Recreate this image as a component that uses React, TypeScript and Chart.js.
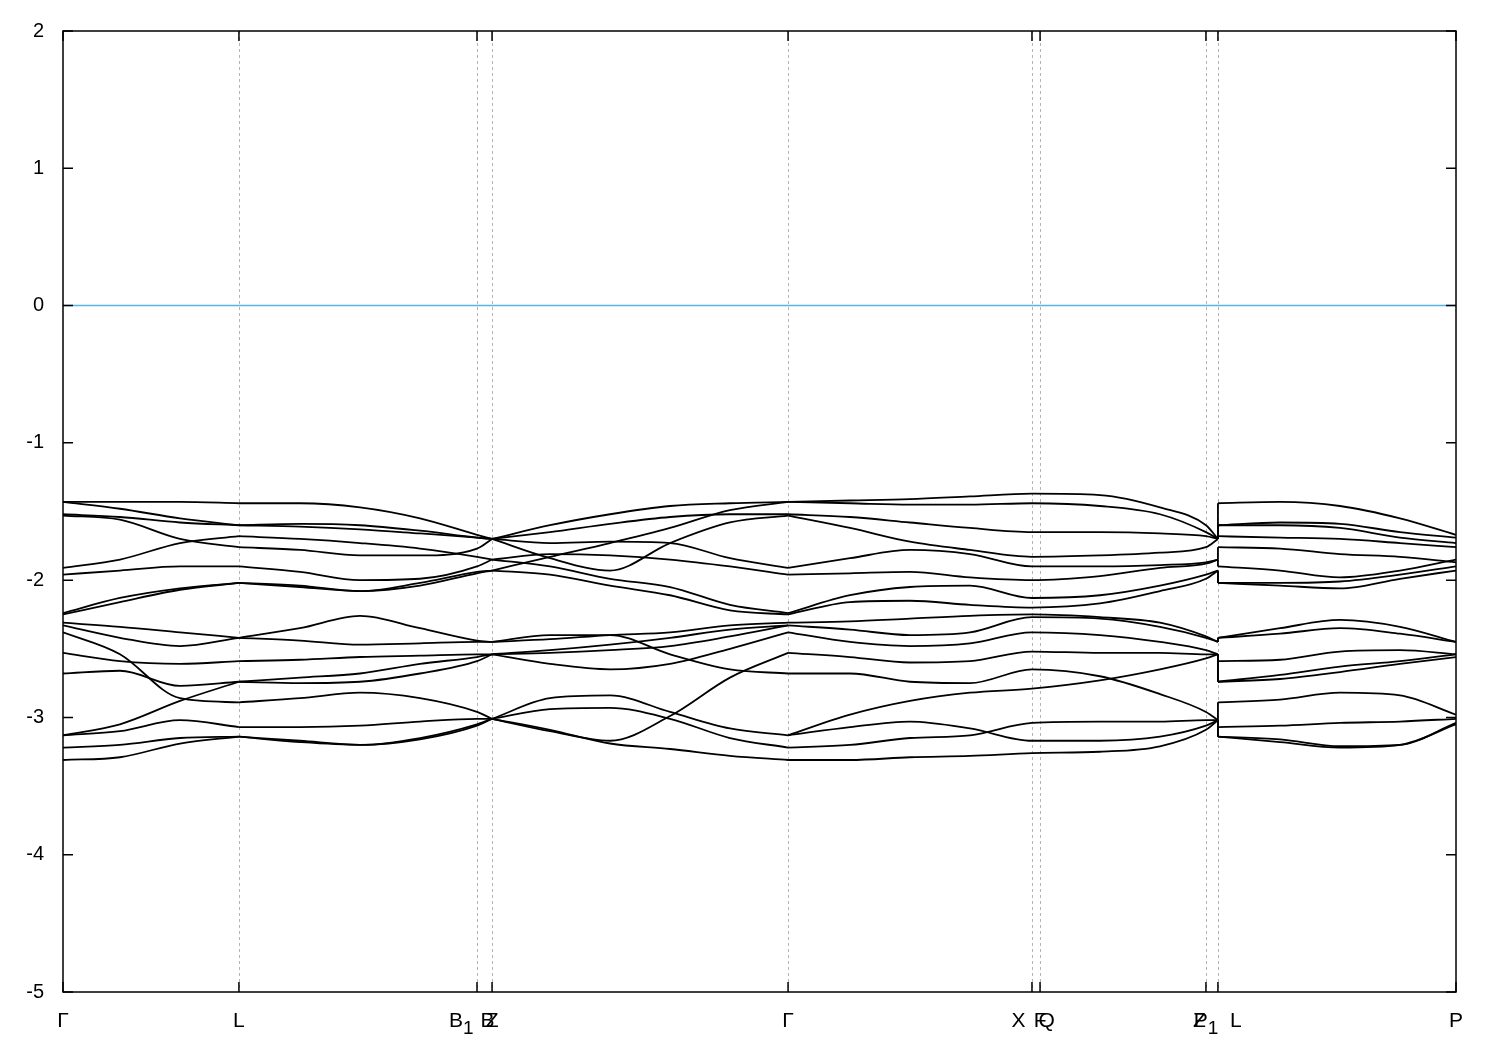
import React, { useEffect, useRef } from 'react';
import { Chart, registerables } from 'chart.js';

Chart.register(...registerables);

// High-symmetry points along the k-path (fraction of total path length)
const kTicks = [0, 0.1263, 0.2972, 0.308, 0.5205, 0.6956, 0.7014, 0.8205, 0.8291, 1.0];
const kLabels = ['Γ', 'L', 'B₁|B', 'Z', 'Γ', 'X|Q', 'F', 'P₁', 'Z|L', 'P'];

const yTicksMin = -5;
const yTicksMax = 2;
const fermiLevel = 0;

// Segment Γ – L
const kGL = [0, 0.0409, 0.084, 0.1263];
const bandsGL = [
  [-1.43, -1.43, -1.43, -1.44],
  [-1.43, -1.48, -1.55, -1.6],
  [-1.52, -1.54, -1.58, -1.6],
  [-1.53, -1.56, -1.7, -1.76],
  [-1.91, -1.85, -1.73, -1.68],
  [-1.96, -1.93, -1.9, -1.9],
  [-2.24, -2.13, -2.06, -2.02],
  [-2.25, -2.16, -2.07, -2.02],
  [-2.31, -2.34, -2.38, -2.42],
  [-2.33, -2.42, -2.48, -2.42],
  [-2.38, -2.54, -2.86, -2.89],
  [-2.53, -2.59, -2.61, -2.59],
  [-2.68, -2.66, -2.77, -2.74],
  [-3.13, -3.05, -2.88, -2.74],
  [-3.13, -3.1, -3.02, -3.07],
  [-3.22, -3.2, -3.15, -3.14],
  [-3.31, -3.29, -3.19, -3.14],
];

// Segment L – B1|B – Z
const kLZ = [0.1263, 0.1701, 0.2132, 0.2563, 0.2972, 0.308];
const bandsLZ = [
  [-1.44, -1.44, -1.47, -1.55, -1.67, -1.7],
  [-1.6, -1.59, -1.6, -1.64, -1.69, -1.7],
  [-1.6, -1.61, -1.63, -1.66, -1.69, -1.7],
  [-1.76, -1.78, -1.82, -1.82, -1.77, -1.7],
  [-1.68, -1.7, -1.73, -1.77, -1.83, -1.85],
  [-1.9, -1.94, -2.0, -1.99, -1.9, -1.85],
  [-2.02, -2.04, -2.08, -2.04, -1.95, -1.93],
  [-2.02, -2.05, -2.08, -2.02, -1.94, -1.93],
  [-2.42, -2.35, -2.26, -2.35, -2.44, -2.45],
  [-2.42, -2.44, -2.47, -2.46, -2.45, -2.45],
  [-2.59, -2.58, -2.56, -2.55, -2.54, -2.54],
  [-2.74, -2.71, -2.68, -2.61, -2.56, -2.54],
  [-2.74, -2.75, -2.74, -2.68, -2.59, -2.54],
  [-2.89, -2.86, -2.82, -2.86, -2.96, -3.01],
  [-3.07, -3.07, -3.06, -3.03, -3.01, -3.01],
  [-3.14, -3.17, -3.2, -3.15, -3.05, -3.01],
  [-3.14, -3.18, -3.2, -3.16, -3.06, -3.01],
];

// Segment Z – Γ
const kZG = [0.308, 0.3496, 0.3927, 0.4358, 0.4788, 0.5205];
const bandsZG = [
  [-1.7, -1.6, -1.52, -1.46, -1.44, -1.43],
  [-1.7, -1.65, -1.59, -1.54, -1.52, -1.52],
  [-1.7, -1.73, -1.72, -1.73, -1.84, -1.91],
  [-1.7, -1.84, -1.93, -1.73, -1.58, -1.53],
  [-1.85, -1.81, -1.82, -1.85, -1.9, -1.96],
  [-1.85, -1.9, -1.99, -2.05, -2.18, -2.24],
  [-1.93, -1.96, -2.04, -2.11, -2.22, -2.25],
  [-1.93, -1.83, -1.73, -1.62, -1.49, -1.43],
  [-2.45, -2.43, -2.4, -2.38, -2.33, -2.31],
  [-2.45, -2.4, -2.4, -2.54, -2.65, -2.68],
  [-2.54, -2.51, -2.47, -2.42, -2.36, -2.33],
  [-2.54, -2.61, -2.65, -2.61, -2.5, -2.38],
  [-2.54, -2.53, -2.51, -2.48, -2.41, -2.33],
  [-3.01, -3.1, -3.17, -2.99, -2.71, -2.53],
  [-3.01, -2.86, -2.84, -2.96, -3.08, -3.13],
  [-3.01, -2.94, -2.93, -3.01, -3.15, -3.22],
  [-3.01, -3.09, -3.19, -3.23, -3.28, -3.31],
];

// Segment Γ – X|Q – F – P1 – Z
const kGZ = [0.5205, 0.565, 0.608, 0.6511, 0.6956, 0.7444, 0.7875, 0.8205, 0.8291];
const bandsGZ = [
  [-1.43, -1.42, -1.41, -1.39, -1.37, -1.38, -1.47, -1.6, -1.7],
  [-1.43, -1.44, -1.45, -1.45, -1.44, -1.46, -1.52, -1.65, -1.7],
  [-1.52, -1.54, -1.58, -1.62, -1.65, -1.65, -1.66, -1.68, -1.7],
  [-1.53, -1.62, -1.72, -1.78, -1.83, -1.82, -1.8, -1.76, -1.7],
  [-1.91, -1.84, -1.78, -1.81, -1.9, -1.9, -1.89, -1.87, -1.85],
  [-1.96, -1.95, -1.94, -1.98, -2.0, -1.97, -1.91, -1.88, -1.85],
  [-2.24, -2.11, -2.05, -2.04, -2.13, -2.11, -2.04, -1.96, -1.93],
  [-2.25, -2.16, -2.15, -2.18, -2.2, -2.17, -2.08, -1.99, -1.93],
  [-2.31, -2.3, -2.28, -2.26, -2.25, -2.27, -2.31, -2.41, -2.45],
  [-2.33, -2.36, -2.4, -2.38, -2.27, -2.28, -2.34, -2.42, -2.45],
  [-2.38, -2.45, -2.48, -2.46, -2.38, -2.4, -2.45, -2.51, -2.54],
  [-2.53, -2.56, -2.6, -2.59, -2.52, -2.53, -2.53, -2.54, -2.54],
  [-2.68, -2.68, -2.74, -2.75, -2.65, -2.7, -2.83, -2.96, -3.02],
  [-3.13, -2.98, -2.88, -2.82, -2.79, -2.73, -2.65, -2.57, -2.54],
  [-3.13, -3.07, -3.03, -3.08, -3.17, -3.17, -3.14, -3.06, -3.02],
  [-3.22, -3.2, -3.15, -3.13, -3.04, -3.03, -3.03, -3.02, -3.02],
  [-3.31, -3.31, -3.29, -3.28, -3.26, -3.25, -3.21, -3.09, -3.02],
];

// Segment L – P
const kLP = [0.8291, 0.8737, 0.9167, 0.9598, 1.0];
const bandsLP = [
  [-1.44, -1.43, -1.46, -1.55, -1.67],
  [-1.6, -1.58, -1.59, -1.65, -1.69],
  [-1.6, -1.6, -1.62, -1.69, -1.73],
  [-1.68, -1.69, -1.7, -1.73, -1.76],
  [-1.76, -1.77, -1.81, -1.83, -1.87],
  [-1.9, -1.93, -1.98, -1.93, -1.85],
  [-2.02, -2.02, -2.01, -1.96, -1.9],
  [-2.02, -2.04, -2.06, -1.99, -1.93],
  [-2.42, -2.35, -2.29, -2.34, -2.45],
  [-2.42, -2.39, -2.35, -2.39, -2.45],
  [-2.59, -2.58, -2.52, -2.51, -2.54],
  [-2.74, -2.69, -2.63, -2.59, -2.54],
  [-2.74, -2.72, -2.67, -2.61, -2.56],
  [-2.89, -2.87, -2.82, -2.84, -2.98],
  [-3.07, -3.06, -3.04, -3.03, -3.01],
  [-3.14, -3.16, -3.21, -3.2, -3.04],
  [-3.14, -3.18, -3.22, -3.2, -3.05],
];

const FONT = '"Liberation Sans", Arial, sans-serif';
const labelGaps: Record<number, number> = { 2: 3.5, 5: 6.5, 8: 12 };

function drawRich(ctx: CanvasRenderingContext2D, str: string, x: number, y: number, align: 'left' | 'right' | 'center', size: number) {
  const pieces: { t: string; sub: boolean }[] = [];
  for (const ch of Array.from(str)) {
    if (ch === '₁') pieces.push({ t: '1', sub: true });
    else pieces.push({ t: ch, sub: false });
  }
  const subSize = Math.round(size * 0.9);
  const widths = pieces.map((p) => {
    ctx.font = `${p.sub ? subSize : size}px ${FONT}`;
    return ctx.measureText(p.t).width;
  });
  const total = widths.reduce((a, b) => a + b, 0);
  let cx = align === 'left' ? x : align === 'right' ? x - total : x - total / 2;
  ctx.textAlign = 'left';
  ctx.textBaseline = 'alphabetic';
  pieces.forEach((p, i) => {
    ctx.font = `${p.sub ? subSize : size}px ${FONT}`;
    ctx.fillText(p.t, cx, y + (p.sub ? 7 : 0));
    cx += widths[i];
  });
}

const framePlugin = {
  id: 'gnuframe',
  beforeDatasetsDraw(chart: any) {
    const { ctx, chartArea: a, scales } = chart;
    ctx.save();
    ctx.strokeStyle = '#b4b4b4';
    ctx.lineWidth = 1;
    ctx.setLineDash([3, 3]);
    kTicks.forEach((k) => {
      const x = Math.round(scales.x.getPixelForValue(k)) + 0.5;
      if (k <= 0 || k >= 1) return;
      ctx.beginPath();
      ctx.moveTo(x, a.top);
      ctx.lineTo(x, a.bottom);
      ctx.stroke();
    });
    ctx.restore();
  },
  afterDatasetsDraw(chart: any) {
    const { ctx, chartArea: a, scales } = chart;
    ctx.save();
    ctx.strokeStyle = '#000';
    ctx.lineWidth = 1.5;
    ctx.setLineDash([]);
    ctx.beginPath();
    for (let v = yTicksMin; v <= yTicksMax; v++) {
      const y = scales.y.getPixelForValue(v);
      ctx.moveTo(a.left, y);
      ctx.lineTo(a.left + 10, y);
      ctx.moveTo(a.right, y);
      ctx.lineTo(a.right - 10, y);
    }
    kTicks.forEach((k) => {
      const x = scales.x.getPixelForValue(k);
      ctx.moveTo(x, a.bottom);
      ctx.lineTo(x, a.bottom - 10);
      ctx.moveTo(x, a.top);
      ctx.lineTo(x, a.top + 10);
    });
    ctx.stroke();
    ctx.strokeRect(a.left, a.top, a.right - a.left, a.bottom - a.top);
    ctx.fillStyle = '#000';
    const size = 21;
    const baseY = a.bottom + 35;
    kLabels.forEach((lab, i) => {
      const x = scales.x.getPixelForValue(kTicks[i]);
      if (lab.includes('|')) {
        const [l, r] = lab.split('|');
        const g = labelGaps[i] ?? 5;
        drawRich(ctx, l, x - g, baseY, 'right', size);
        drawRich(ctx, r, x + g, baseY, 'left', size);
      } else {
        drawRich(ctx, lab, x, baseY, 'center', size);
      }
    });
    ctx.restore();
  },
};

export default function App() {
  const ref = useRef<HTMLCanvasElement>(null);
  useEffect(() => {
    document.body.style.margin = '0';
    const canvas = ref.current;
    if (!canvas) return;
    const datasets: any[] = [];
    const lineStyle = {
      borderColor: '#000',
      borderWidth: 1.8,
      pointRadius: 0,
      fill: false,
    };
    const addSegment = (ks: number[], bands: number[][]) => {
      bands.forEach((b) =>
        datasets.push({
          ...lineStyle,
          cubicInterpolationMode: 'monotone',
          data: b.map((y, i) => ({ x: ks[i], y })),
        })
      );
    };
    addSegment(kGL, bandsGL);
    addSegment(kLZ, bandsLZ);
    addSegment(kZG, bandsZG);
    addSegment(kGZ, bandsGZ);
    addSegment(kLP, bandsLP);
    // discontinuity Z|L: connect sorted band energies
    const kJump = kGZ[kGZ.length - 1];
    const zVals = bandsGZ.map((b) => b[b.length - 1]).sort((p, q) => p - q);
    const lVals = bandsLP.map((b) => b[0]).sort((p, q) => p - q);
    zVals.forEach((z, i) =>
      datasets.push({
        ...lineStyle,
        tension: 0,
        data: [
          { x: kJump, y: z },
          { x: kJump, y: lVals[i] },
        ],
      })
    );
    datasets.push({
      borderColor: '#56b4e9',
      borderWidth: 1.5,
      pointRadius: 0,
      tension: 0,
      fill: false,
      data: [
        { x: 0, y: fermiLevel },
        { x: 1, y: fermiLevel },
      ],
    });

    const chart = new Chart(canvas, {
      type: 'line',
      data: { datasets },
      plugins: [framePlugin],
      options: {
        animation: false,
        responsive: false,
        devicePixelRatio: 1,
        parsing: false,
        normalized: true,
        layout: { padding: { left: 0, right: 44, top: 28, bottom: 58 } },
        plugins: { legend: { display: false }, tooltip: { enabled: false } },
        elements: { point: { radius: 0 } },
        scales: {
          x: { type: 'linear', min: 0, max: 1, display: false },
          y: {
            type: 'linear',
            min: yTicksMin,
            max: yTicksMax,
            ticks: {
              stepSize: 1,
              color: '#000',
              padding: 19,
              font: { family: FONT, size: 20 },
            },
            grid: { display: false, drawTicks: false },
            border: { display: false },
            afterFit: (s: any) => {
              s.width = 63;
            },
          },
        },
      } as any,
    });
    return () => chart.destroy();
  }, []);
  return (
    <div style={{ width: 1500, height: 1050 }}>
      <canvas ref={ref} width={1500} height={1050} style={{ display: 'block' }} />
    </div>
  );
}
